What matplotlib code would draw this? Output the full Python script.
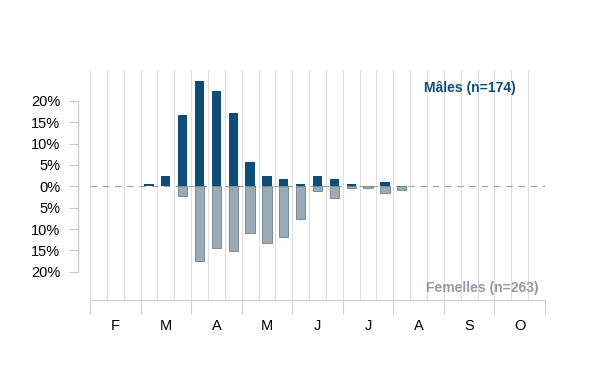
import numpy as np
import matplotlib
matplotlib.use("Agg")
import matplotlib.pyplot as plt

plt.rcParams['font.family'] = ['Liberation Sans', 'DejaVu Sans']

# 10-day periods, Feb -> Oct (3 per month)
months = ['F', 'M', 'A', 'M', 'J', 'J', 'A', 'S', 'O']
males = [0, 0, 0, 0.6, 2.3, 16.7, 24.7, 22.4, 17.2, 5.7, 2.3, 1.7, 0.6,
         2.3, 1.7, 0.6, 0, 1.1, 0, 0, 0, 0, 0, 0, 0, 0, 0]
females = [0, 0, 0, 0, 0, 2.3, 17.5, 14.4, 15.2, 11.0, 13.3, 11.8, 7.6,
           1.1, 2.7, 0.4, 0.4, 1.5, 0.8, 0, 0, 0, 0, 0, 0, 0, 0]
yticks = [-20, -15, -10, -5, 0, 5, 10, 15, 20]

male_col = '#0e4d75'
fem_col = '#9aabb8'

fig = plt.figure(figsize=(6, 3.9), dpi=100)
ax = fig.add_axes([0.15, 0.2308, 0.7583, 0.5897])

n = len(males)
x = np.arange(n) + 0.5
ax.set_xlim(0, n)
ax.set_ylim(-26.6, 27.2)

# grid of periods
ax.vlines(np.arange(n + 1), -26.6, 27.2, color='#dedede', lw=0.8, zorder=0)
ax.axhline(0, color='#a0a0a0', lw=0.8, dashes=(6, 5), zorder=1)

m = np.array(males)
f = np.array(females)
ax.bar(x[m > 0], m[m > 0], width=0.55, color=male_col, zorder=3)
ax.bar(x[f > 0], -f[f > 0], width=0.55, color=fem_col, edgecolor='#6f7f8c',
       lw=0.6, zorder=2)

for s in ['top', 'right']:
    ax.spines[s].set_visible(False)
ax.spines['left'].set_position(('outward', 9))
ax.spines['left'].set_bounds(-20, 20)
ax.spines['left'].set_color('#c8c8c8')
ax.spines['bottom'].set_color('#cfcfcf')

ax.set_yticks(yticks)
ax.set_yticklabels([f"{abs(v)}%" for v in yticks], fontsize=10.5)
ax.tick_params(axis='y', length=6.5, color='#c8c8c8', pad=6)

ax.set_xticks(np.arange(0, n + 1, 3))
ax.set_xticklabels([])
ax.tick_params(axis='x', which='major', length=10, color='#cfcfcf')
ax.set_xticks(np.arange(1.5, n, 3), minor=True)
ax.set_xticklabels(months, minor=True, fontsize=10.5)
ax.tick_params(axis='x', which='minor', length=0, pad=14)

ax.text(0.935, 0.92, 'Mâles (n=174)', transform=ax.transAxes, ha='right',
        va='center', fontsize=10, fontweight='bold', color=male_col)
ax.text(0.985, 0.05, 'Femelles (n=263)', transform=ax.transAxes, ha='right',
        va='center', fontsize=10, fontweight='bold', color='#8c9ba7')

fig.savefig('out.png', dpi=100)
